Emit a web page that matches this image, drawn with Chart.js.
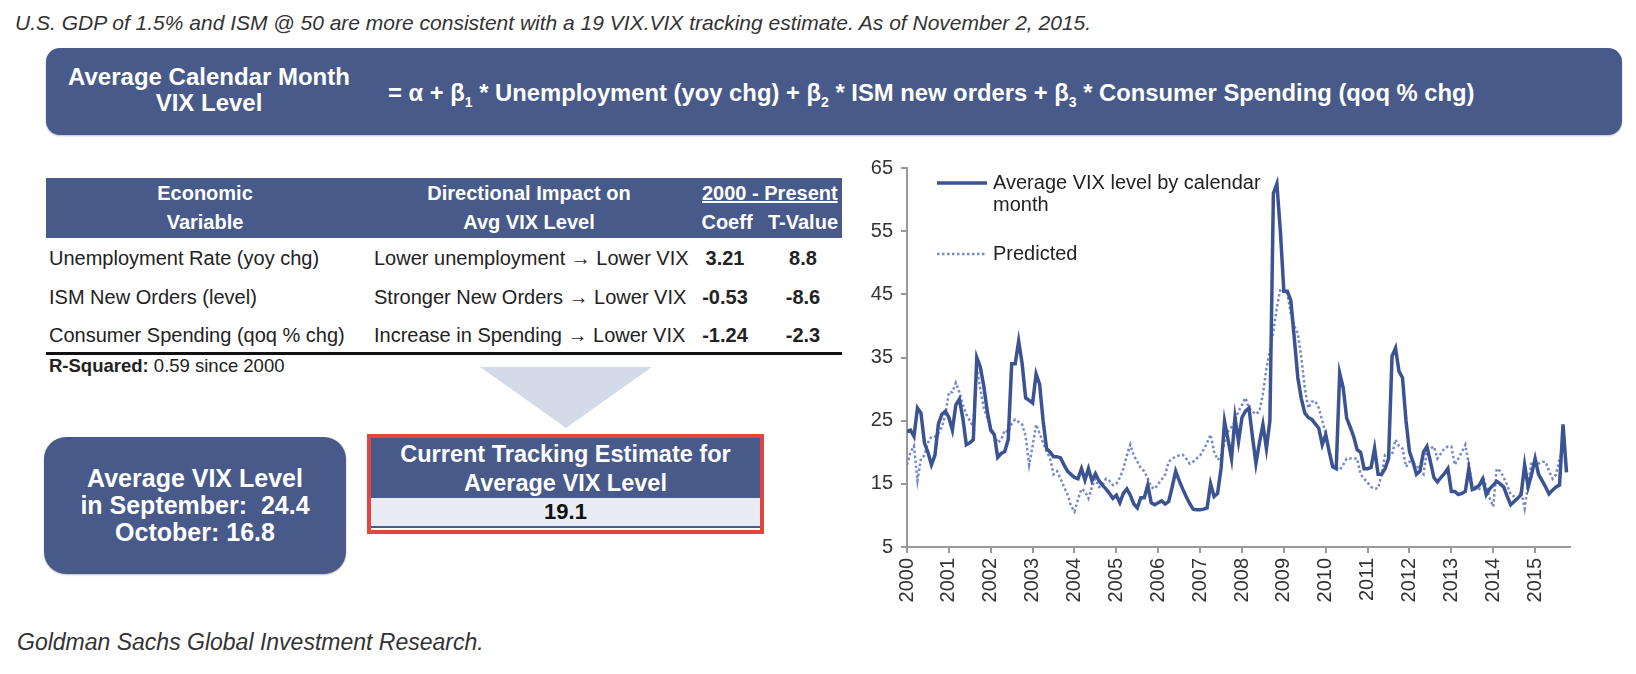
<!DOCTYPE html>
<html>
<head>
<meta charset="utf-8">
<script src="https://cdn.jsdelivr.net/npm/chart.js@4.4.0/dist/chart.umd.min.js"></script>
<style>
  body { margin: 0; width: 1636px; height: 674px; background: #fff; position: relative; overflow: hidden;
         font-family: "Liberation Sans", Arial, sans-serif; color: #222; }
  .abs { position: absolute; }
  .navy { background: #475a8a; color: #fff; }
  .b { font-weight: bold; }
  #title, #footer { font-style: italic; color: #333; white-space: nowrap; }
  #banner { left: 46px; top: 48px; width: 1576px; height: 87px; border-radius: 14px; box-shadow: 0 1px 2px rgba(0,0,0,.25); }
  .hdr { text-align: center; line-height: 29px; font-size: 20px; font-weight: bold; color: #fff; white-space: nowrap; }
  .row { font-size: 20px; line-height: 24px; white-space: nowrap; }
  sub { font-size: 14px; }
  #chartBox { left: 800px; top: 140px; width: 790px; height: 480px; }
</style>
</head>
<body>
<div id="title" class="abs" style="left:15px; top:10px; font-size:21px; line-height:25px;"></div>

<div id="banner" class="abs navy">
  <div class="abs b" style="left:0; top:16px; width:326px; text-align:center; font-size:24px; line-height:26px;">Average Calendar Month<br>VIX Level</div>
  <div class="abs b" style="left:342px; top:31px; font-size:23.8px; line-height:27px; white-space:nowrap;">= α + β<sub>1</sub> * Unemployment (yoy chg) + β<sub>2</sub> * ISM new orders + β<sub>3</sub> * Consumer Spending (qoq % chg)</div>
</div>

<div id="tableHead" class="abs navy" style="left:46px; top:178px; width:796px; height:60px;"></div>
<div id="tableRows"></div>
<div class="abs" style="left:46px; top:352px; width:796px; height:3px; background:#111;"></div>
<div class="abs" style="left:49px; top:355px; font-size:18.5px; line-height:22px;"><b>R-Squared:</b> 0.59 since 2000</div>

<div class="abs" style="left:480px; top:367px; width:172px; height:61px; background:#d4dbe8; clip-path:polygon(0 0,100% 0,50% 100%);"></div>

<div class="abs navy b" style="left:44px; top:437px; width:302px; height:137px; border-radius:22px; display:flex; align-items:center; justify-content:center; text-align:center; font-size:25px; line-height:27px; box-shadow:0 1px 2px rgba(0,0,0,.25);">
  <div>Average VIX Level<br>in September:&nbsp; 24.4<br>October: 16.8</div>
</div>

<div class="abs" style="left:367px; top:434px; width:397px; height:100px; border:4px solid #e2443f; box-sizing:border-box;">
  <div class="navy b" style="height:60px; text-align:center; font-size:23.5px; line-height:29px; padding-top:2px; box-sizing:border-box;">Current Tracking Estimate for<br>Average VIX Level</div>
  <div class="b" style="height:28px; background:#e8ecf2; text-align:center; font-size:22px; line-height:28px; color:#111;" id="estimate"></div>
  <div style="height:2px; background:#475a8a;"></div>
</div>

<div id="footer" class="abs" style="left:17px; top:629px; font-size:23px; line-height:27px;">Goldman Sachs Global Investment Research.</div>

<div id="chartBox" class="abs"><canvas id="vixChart"></canvas></div>

<script>
const titleText = "U.S. GDP of 1.5% and ISM @ 50 are more consistent with a 19 VIX.VIX tracking estimate. As of November 2, 2015.";
const trackingEstimate = "19.1";

// table contents
const tableVariables = ["Unemployment Rate (yoy chg)", "ISM New Orders (level)", "Consumer Spending (qoq % chg)"];
const tableImpact = ["Lower unemployment \u2192 Lower VIX", "Stronger New Orders \u2192 Lower VIX", "Increase in Spending \u2192 Lower VIX"];
const tableCoeff = ["3.21", "-0.53", "-1.24"];
const tableTValue = ["8.8", "-8.6", "-2.3"];

// chart: year tick labels, one value per calendar month from Jan 2000 to Oct 2015
const years = ["2000","2001","2002","2003","2004","2005","2006","2007","2008","2009","2010","2011","2012","2013","2014","2015"];

const vixActual = [
  23.3, 23.5, 22.5, 27.0, 26.2, 21.5, 20.0, 18.0, 19.5, 24.5, 26.0, 26.5,
  25.5, 23.5, 27.5, 28.4, 25.4, 21.2, 21.5, 22.0, 35.0, 33.5, 30.5, 26.5,
  23.5, 22.8, 19.2, 19.8, 20.1, 22.0, 34.0, 34.0, 37.6, 34.0, 28.6, 28.2,
  27.8, 32.4, 30.8, 25.0, 20.6, 20.0, 19.3, 19.3, 19.1, 18.0, 17.0, 16.5,
  16.0, 15.8, 17.4, 15.6, 17.4, 15.5, 16.6, 15.5, 14.8, 14.2, 13.5, 12.7,
  13.2, 12.0, 13.5, 14.2, 13.2, 11.8, 11.2, 12.8, 12.8, 14.8, 12.0, 11.7,
  12.0, 12.3, 11.8, 12.2, 14.5, 17.0, 15.5, 14.2, 13.0, 11.9, 11.0, 10.9,
  10.9, 11.0, 11.2, 15.0, 13.0, 13.5, 17.4, 24.9, 22.0, 19.0, 25.5, 21.7,
  25.5, 26.5, 27.0, 22.5, 18.2, 21.5, 24.4, 20.6, 25.0, 61.0, 62.5, 55.0,
  45.5, 45.5, 44.0, 38.0, 31.8, 28.5, 26.2, 25.5, 25.2, 24.5, 23.8, 21.2,
  22.8, 20.1, 17.7, 17.4, 32.5, 30.2, 25.4, 24.0, 22.5, 20.4, 20.0, 17.4,
  17.4, 17.6, 20.6, 16.5, 16.5, 17.4, 19.0, 35.2, 36.5, 32.8, 31.8, 25.0,
  20.1, 18.5, 16.5, 17.0, 20.0, 20.9, 18.5, 16.0, 15.3, 16.0, 16.6, 17.4,
  13.8, 13.8, 13.3, 13.5, 13.8, 17.4, 14.1, 14.3, 14.8, 15.8, 13.3, 14.2,
  14.8, 15.4, 15.0, 14.5, 13.0, 11.7, 12.2, 12.7, 13.3, 18.0, 14.5, 16.5,
  19.0, 16.5, 15.5, 14.5, 13.4, 14.0, 14.5, 14.8, 24.4, 16.8
];

const vixPredicted = [
  18.0, 20.0, 21.0, 15.5, 19.0, 19.5, 21.5, 22.5, 22.5, 23.0, 24.0, 26.0,
  29.5, 29.5, 31.0, 29.5, 27.5, 26.0, 25.0, 24.0, 33.5, 30.0, 27.0, 25.5,
  24.0, 22.8, 21.5, 22.0, 23.5, 23.2, 24.5, 25.2, 24.8, 24.4, 22.5, 18.0,
  21.0, 24.4, 23.0, 21.5, 20.1, 19.0, 16.5, 17.0, 15.8, 14.5, 13.3, 11.5,
  10.6, 12.5, 14.2, 13.8, 12.7, 14.5, 15.8, 14.5, 14.8, 15.8, 15.5, 14.8,
  15.0, 16.0, 17.4, 19.5, 21.2, 19.5, 18.5, 17.5, 17.0, 15.8, 14.5, 14.2,
  15.0, 15.7, 16.5, 18.5, 19.0, 19.3, 19.5, 19.6, 19.0, 18.2, 18.5, 19.0,
  19.5, 20.4, 21.5, 22.8, 20.1, 18.8, 19.3, 21.5, 23.3, 24.0, 24.9, 26.5,
  27.5, 28.6, 27.0, 26.5, 26.0, 26.5, 29.2, 33.3, 36.0, 39.2, 42.9, 45.9,
  45.5, 45.1, 41.9, 40.0, 38.8, 35.0, 30.2, 27.0, 28.0, 28.1, 27.0, 25.0,
  22.8, 20.0, 18.0, 17.5, 17.2, 18.0, 19.0, 19.0, 19.0, 19.0, 16.5, 15.8,
  15.2, 14.5, 14.2, 14.3, 16.5, 19.6, 19.6, 19.6, 22.0, 21.0, 20.6, 17.7,
  18.5, 18.3, 18.0, 17.0, 16.5, 20.4, 20.6, 20.9, 19.0, 19.8, 20.6, 20.9,
  20.9, 18.0, 19.0, 20.0, 21.2, 18.0, 14.8, 14.5, 14.2, 16.1, 14.5, 12.7,
  11.4, 17.4, 17.0, 16.0, 14.8, 13.3, 13.0, 12.7, 13.8, 11.1, 15.0, 18.5,
  18.2, 18.2, 18.5, 18.5, 17.0, 15.8, 16.5, 19.0, 20.5, 21.2
];

const yTicks = [5, 15, 25, 35, 45, 55, 65];

// static texts
document.getElementById("title").textContent = titleText;
document.getElementById("estimate").textContent = trackingEstimate;

const head = document.getElementById("tableHead");
head.innerHTML =
  '<div class="abs hdr" style="left:0; top:1px; width:318px;">Economic<br>Variable</div>' +
  '<div class="abs hdr" style="left:333px; top:1px; width:300px;">Directional Impact on<br>Avg VIX Level</div>' +
  '<div class="abs hdr" style="left:656px; top:1px; width:130px;"><u>2000 - Present</u></div>' +
  '<div class="abs hdr" style="left:651px; top:30px; width:60px;">Coeff</div>' +
  '<div class="abs hdr" style="left:717px; top:30px; width:80px;">T-Value</div>';

const rowTops = [246, 285, 323];
let rowsHtml = "";
tableVariables.forEach((v, i) => {
  const t = rowTops[i];
  rowsHtml += `<div class="abs row" style="left:49px; top:${t}px;">${v}</div>`;
  rowsHtml += `<div class="abs row" style="left:374px; top:${t}px; width:300px; text-align:center;">${tableImpact[i]}</div>`;
  rowsHtml += `<div class="abs row b" style="left:695px; top:${t}px; width:60px; text-align:center;">${tableCoeff[i]}</div>`;
  rowsHtml += `<div class="abs row b" style="left:773px; top:${t}px; width:60px; text-align:center;">${tableTValue[i]}</div>`;
});
document.getElementById("tableRows").innerHTML = rowsHtml;

// legend drawn inside the plot area, top left
const inlineLegend = {
  id: "inlineLegend",
  afterDraw(chart, args, opts) {
    const { ctx, chartArea } = chart;
    ctx.save();
    ctx.font = opts.font;
    ctx.fillStyle = opts.color;
    ctx.textBaseline = "middle";
    opts.items.forEach((item, i) => {
      const ds = chart.data.datasets[i];
      const y = chartArea.top + item.y;
      ctx.beginPath();
      ctx.strokeStyle = ds.borderColor;
      ctx.lineWidth = ds.borderWidth;
      ctx.setLineDash(ds.borderDash || []);
      ctx.moveTo(chartArea.left + opts.x, y);
      ctx.lineTo(chartArea.left + opts.x + opts.lineLength, y);
      ctx.stroke();
      ctx.setLineDash([]);
      item.lines.forEach((t, j) => ctx.fillText(t, chartArea.left + opts.textX, y + j * opts.lineHeight));
    });
    ctx.restore();
  }
};

const toPoints = arr => arr.map((v, i) => ({ x: i, y: v }));
const tickFont = { family: "'Liberation Sans', Arial, sans-serif", size: 20 };

new Chart(document.getElementById("vixChart"), {
  type: "line",
  data: {
    datasets: [{
      label: "Average VIX level by calendar month",
      data: toPoints(vixActual),
      borderColor: "#3b5393",
      borderWidth: 3.5,
      pointRadius: 0,
      tension: 0
    }, {
      label: "Predicted",
      data: toPoints(vixPredicted),
      borderColor: "#7489cc",
      borderWidth: 2.5,
      borderDash: [2.5, 2.5],
      pointRadius: 0,
      tension: 0
    }]
  },
  options: {
    animation: false,
    responsive: true,
    maintainAspectRatio: false,
    layout: { padding: { top: 28, right: 20, left: 0, bottom: 0 } },
    plugins: {
      legend: { display: false },
      tooltip: { enabled: false },
      inlineLegend: {
        font: "20px 'Liberation Sans', Arial, sans-serif",
        color: "#222",
        x: 30, lineLength: 50, textX: 86, lineHeight: 22,
        items: [
          { y: 15, lines: ["Average VIX level by calendar", "month"] },
          { y: 86, lines: ["Predicted"] }
        ]
      }
    },
    scales: {
      x: {
        type: "linear",
        min: 0,
        max: 190,
        afterBuildTicks: s => { s.ticks = years.map((y, i) => ({ value: i * 12 })); },
        afterFit: s => { s.height = 73; },
        ticks: {
          autoSkip: false,
          minRotation: 90,
          maxRotation: 90,
          padding: 5,
          color: "#333",
          font: tickFont,
          callback: (v) => years[Math.round(v / 12)]
        },
        grid: { drawOnChartArea: false, drawTicks: true, tickLength: 6, color: "#999", lineWidth: 2 },
        border: { color: "#999", width: 2 }
      },
      y: {
        min: 5,
        max: 65,
        afterBuildTicks: s => { s.ticks = yTicks.map(v => ({ value: v })); },
        afterFit: s => { s.width = 107; },
        ticks: {
          padding: 8,
          color: "#333",
          font: tickFont
        },
        grid: { drawOnChartArea: false, drawTicks: true, tickLength: 6, color: "#999", lineWidth: 2 },
        border: { color: "#999", width: 2 }
      }
    }
  },
  plugins: [inlineLegend]
});
</script>
</body>
</html>
